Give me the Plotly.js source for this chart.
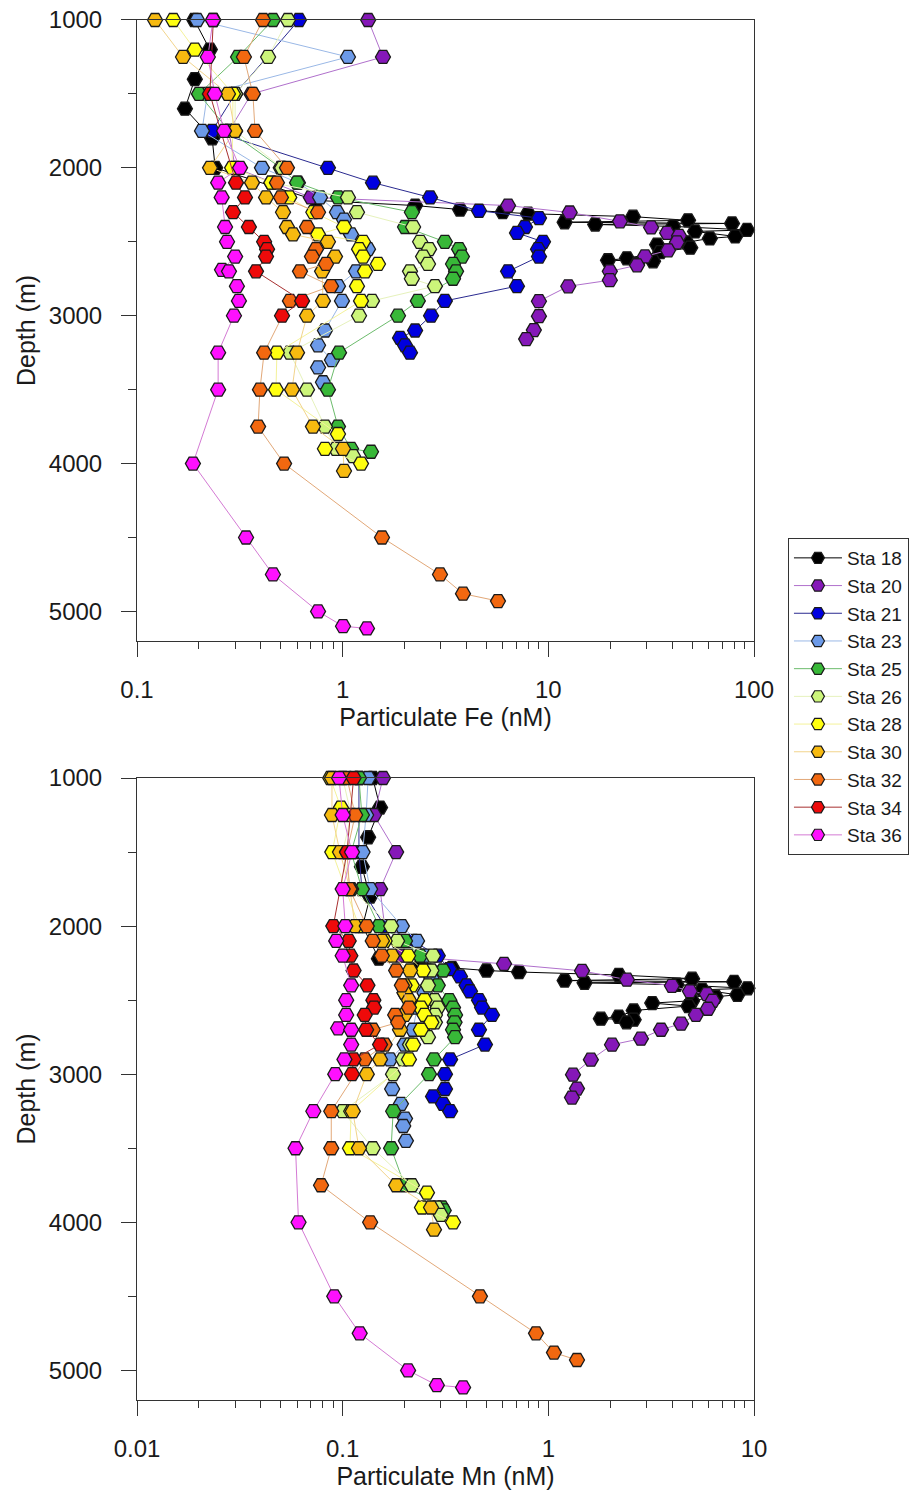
<!DOCTYPE html>
<html>
<head>
<meta charset="utf-8">
<script src="https://cdn.plot.ly/plotly-3.0.1.min.js"></script>
<style>html,body{margin:0;padding:0;background:#fff;}#chart{width:923px;height:1492px;}</style>
</head>
<body>
<div id="chart"></div>
<script>
// ---- Data (depth in m, particulate Fe and Mn in nM) ----
var stations = ["Sta 18","Sta 20","Sta 21","Sta 23","Sta 25","Sta 26","Sta 28","Sta 30","Sta 32","Sta 34","Sta 36"];

var depth18 = [1000,1200,1400,1600,1800,2000,2220,2255,2282,2300,2310,2330,2355,2368,2376,2383,2396,2420,2430,2464,2477,2504,2520,2540,2570,2612,2625,2632,2650];
var fe18 = [0.19,0.226,0.191,0.171,0.232,0.24,0.742,2.25,3.72,6.0,7.96,25.8,47.8,12.0,78.2,16.9,40.4,92.5,51.7,81,61,47,33.8,49,35,24.1,19.5,32.3,27];
var mn18 = [0.14,0.152,0.133,0.124,0.136,0.125,0.150,0.24,0.34,0.50,0.72,2.2,5.0,1.2,8.0,1.5,4.2,9.3,5.6,8.3,6.5,5.0,3.2,4.8,2.6,2.2,1.8,2.6,2.4];

var depth20 = [1000,1250,1500,1750,2000,2200,2255,2302,2362,2403,2440,2460,2504,2558,2599,2659,2700,2760,2801,2902,3003,3097,3158];
var fe20 = [1.33,1.57,0.36,0.28,0.30,0.70,6.37,12.7,22.3,31.6,37.8,43.2,42.2,38.2,29.5,27.0,19.9,19.9,12.5,9.0,9.0,8.5,7.8];
var mn20 = [0.157,0.142,0.182,0.152,0.16,0.19,0.609,1.458,2.41,3.99,4.88,5.9,6.3,5.97,5.22,4.42,3.53,2.82,2.04,1.61,1.318,1.378,1.303];

var depth21 = [1000,1500,1750,2000,2100,2200,2290,2340,2400,2440,2500,2550,2600,2700,2800,2900,3000,3100,3150,3200,3250];
var fe21 = [0.613,0.30,0.232,0.848,1.404,2.66,4.60,9.01,7.70,7.04,9.42,8.91,9.01,6.37,7.04,3.14,2.69,2.25,1.90,2.01,2.125];
var mn21 = [0.12,0.12,0.124,0.16,0.22,0.29,0.33,0.372,0.40,0.416,0.46,0.476,0.532,0.46,0.492,0.333,0.3145,0.3145,0.275,0.3075,0.333];

var depth23 = [1000,1250,1500,1750,2000,2100,2200,2300,2350,2450,2550,2700,2800,2900,3100,3200,3300,3350,3450];
var fe23 = [0.196,1.061,0.22,0.207,0.405,0.606,0.776,0.938,1.015,1.098,1.328,1.161,0.949,0.992,0.82,0.759,0.887,0.759,0.802];
var mn23 = [0.133,0.13,0.125,0.136,0.194,0.23,0.25,0.26,0.27,0.25,0.23,0.22,0.2,0.17,0.174,0.192,0.201,0.197,0.203];

var depth25 = [1000,1250,1500,1750,2000,2100,2200,2300,2400,2500,2550,2600,2650,2700,2750,2900,3000,3250,3500,3750,3900,3920];
var fe25 = [0.458,0.31,0.2,0.28,0.5,0.6,0.949,2.17,2.01,3.14,3.68,3.80,3.44,3.56,3.44,2.32,1.858,0.96,0.848,0.949,1.098,1.373];
var mn25 = [0.12,0.124,0.11,0.124,0.150,0.201,0.238,0.3075,0.29,0.33,0.344,0.352,0.35,0.344,0.352,0.278,0.263,0.176,0.172,0.2,0.304,0.31];

var depth26 = [1000,1250,1500,1750,2000,2100,2200,2300,2400,2500,2550,2600,2650,2700,2750,2800,2900,3000,3250,3500,3750,3900,3950];
var fe26 = [0.542,0.434,0.30,0.30,0.507,0.45,1.061,1.174,2.2,2.38,2.63,2.46,2.60,2.125,2.17,2.81,1.389,1.201,0.554,0.671,0.82,0.928,1.123];
var mn26 = [0.10,0.11,0.10,0.11,0.172,0.184,0.275,0.27,0.26,0.28,0.29,0.281,0.281,0.243,0.26,0.2125,0.1965,0.1757,0.100,0.140,0.217,0.287,0.30];

var depth28 = [1000,1200,1500,2000,2100,2200,2300,2400,2450,2500,2550,2600,2650,2700,2800,2900,3250,3500,3800,3900,4000];
var fe28 = [0.15,0.191,0.293,0.29,0.45,0.55,0.72,1.015,0.759,1.256,1.201,1.256,1.485,1.284,1.174,1.228,0.479,0.474,0.949,0.82,1.228];
var mn28 = [0.087,0.098,0.089,0.12,0.16,0.208,0.246,0.217,0.2,0.25,0.24,0.25,0.27,0.24,0.22,0.21,0.11,0.1085,0.257,0.243,0.344];

var depth30 = [1000,1250,1500,1750,2000,2100,2200,2300,2400,2450,2500,2600,2700,2900,3000,3250,3500,3750,3900,4050];
var fe30 = [0.1224,0.1674,0.277,0.2996,0.2265,0.3624,0.424,0.5128,0.536,0.5734,0.848,0.918,0.794,0.802,0.671,0.60,0.567,0.717,1.004,1.015];
var mn30 = [0.0887,0.0887,0.097,0.1085,0.1148,0.1553,0.1737,0.2125,0.2,0.2,0.21,0.2,0.19,0.152,0.131,0.112,0.12,0.182,0.269,0.278];

var depth32 = [1000,1250,1500,1750,2000,2100,2200,2300,2400,2550,2600,2650,2700,2800,2900,3250,3500,3750,4000,4500,4750,4880,4930];
var fe32 = [0.41,0.331,0.366,0.375,0.536,0.479,0.501,0.759,0.671,0.742,0.709,0.83,0.62,0.878,0.554,0.415,0.396,0.388,0.519,1.553,2.973,3.846,5.69];
var mn32 = [0.105,0.115,0.105,0.108,0.131,0.140,0.155,0.182,0.194,0.21,0.180,0.186,0.14,0.16,0.128,0.088,0.088,0.0785,0.136,0.465,0.871,1.065,1.378];

var depth34 = [1000,1500,2000,2100,2200,2300,2400,2500,2550,2600,2700,2800,2900,3000];
var fe34 = [0.235,0.226,null,0.303,0.335,0.293,0.35,0.415,0.429,0.424,0.379,null,0.635,0.507];
var mn34 = [0.113,0.105,0.090,0.107,0.109,0.113,0.132,0.141,0.142,0.128,0.130,0.152,0.113,0.111];

var depth36 = [1000,1250,1500,1750,2000,2100,2200,2400,2500,2600,2690,2700,2800,2900,3000,3250,3500,4000,4500,4750,5000,5100,5115];
var fe36 = [0.234,0.221,0.239,0.265,0.317,0.248,0.258,0.268,0.274,0.300,0.259,0.280,0.306,0.313,0.296,0.248,0.248,0.187,0.339,0.458,0.759,1.004,1.313];
var mn36 = [0.096,0.100,0.111,0.100,0.103,0.093,0.100,0.110,0.104,0.104,0.095,0.110,0.110,0.102,0.092,0.072,0.059,0.061,0.091,0.121,0.208,0.287,0.385];

var depths = [depth18,depth20,depth21,depth23,depth25,depth26,depth28,depth30,depth32,depth34,depth36];
var feVals = [fe18,fe20,fe21,fe23,fe25,fe26,fe28,fe30,fe32,fe34,fe36];
var mnVals = [mn18,mn20,mn21,mn23,mn25,mn26,mn28,mn30,mn32,mn34,mn36];

// ---- Styles ----
var markerColors = ["#000000","#8518b8","#0000e0","#6c9ae8","#38b838","#ccf57a","#ffff10","#f7ba10","#f26810","#ee0a0a","#ff10ff"];
var lineColors = ["#000000","#b070cc","#2a2a90","#9ab8e6","#6cbc6c","#e6f2bc","#f4f29a","#f2d48c","#e2a878","#a83030","#d47ad4"];

var traces = [];
function addTraces(vals, xa, ya) {
  for (var i = 0; i < stations.length; i++) {
    traces.push({
      x: vals[i], y: depths[i], xaxis: xa, yaxis: ya,
      type: 'scatter', mode: 'lines+markers', name: stations[i],
      legendgroup: stations[i], showlegend: false,
      connectgaps: true, cliponaxis: false,
      line: {color: lineColors[i], width: 1},
      marker: {symbol: 'hexagon2', size: 15, color: markerColors[i],
               line: {color: '#1a1a1a', width: 1.3}}
    });
  }
}
addTraces(feVals, 'x', 'y');
addTraces(mnVals, 'x2', 'y2');
// legend entries (no data of their own; smaller key symbols as in the original legend)
for (var k = 0; k < stations.length; k++) {
  traces.push({
    x: [null], y: [null], xaxis: 'x', yaxis: 'y', type: 'scatter', mode: 'lines+markers',
    name: stations[k], legendgroup: stations[k], showlegend: true,
    line: {color: lineColors[k], width: 1},
    marker: {symbol: 'hexagon2', size: 13, color: markerColors[k], line: {color: '#1a1a1a', width: 1.2}}
  });
}

var fontFam = '"Liberation Sans", Arial, sans-serif';
var axisCommon = {
  showgrid: false, zeroline: false, showline: true, linecolor: '#333', linewidth: 1,
  mirror: true, ticks: 'outside', tickcolor: '#333', tickwidth: 1,
  tickfont: {family: fontFam, size: 24, color: '#1a1a1a'}
};
function xAxis(range, title, anchor) {
  return Object.assign({}, axisCommon, {
    type: 'log', range: range, dtick: 1, domain: [0.14843, 0.81690], anchor: anchor,
    ticklen: 15, ticklabelstandoff: 12,
    minor: {ticks: 'outside', ticklen: 7, tickcolor: '#333', tickwidth: 1, showgrid: false},
    title: {text: title, font: {family: fontFam, size: 25, color: '#1a1a1a'}, standoff: 3}
  });
}
function yAxis(domain, anchor) {
  return Object.assign({}, axisCommon, {
    range: [5200, 1000], tick0: 1000, dtick: 1000, domain: domain, anchor: anchor,
    ticklen: 15, ticklabelstandoff: 14,
    minor: {ticks: 'outside', ticklen: 8, dtick: 500, tick0: 1000, tickcolor: '#333', tickwidth: 1, showgrid: false},
    title: {text: 'Depth (m)', font: {family: fontFam, size: 25, color: '#1a1a1a'}, standoff: 6}
  });
}

var layout = {
  width: 923, height: 1492,
  margin: {l: 0, r: 0, t: 0, b: 0},
  paper_bgcolor: '#ffffff', plot_bgcolor: '#ffffff',
  font: {family: fontFam, color: '#1a1a1a'},
  xaxis: xAxis([-1, 2], 'Particulate Fe (nM)', 'y'),
  yaxis: yAxis([0.57038, 0.98660], 'x'),
  xaxis2: xAxis([-2, 1], 'Particulate Mn (nM)', 'y2'),
  yaxis2: yAxis([0.06166, 0.47855], 'x2'),
  showlegend: true,
  legend: {
    x: 0.8537, y: 0.6394, xanchor: 'left', yanchor: 'top',
    bordercolor: '#333', borderwidth: 1, bgcolor: '#ffffff',
    font: {family: fontFam, size: 19, color: '#1a1a1a'},
    itemwidth: 48, tracegroupgap: 0, entrywidth: 126, entrywidthmode: 'pixels'
  }
};

Plotly.newPlot('chart', traces, layout, {staticPlot: true, displayModeBar: false});
</script>
</body>
</html>
